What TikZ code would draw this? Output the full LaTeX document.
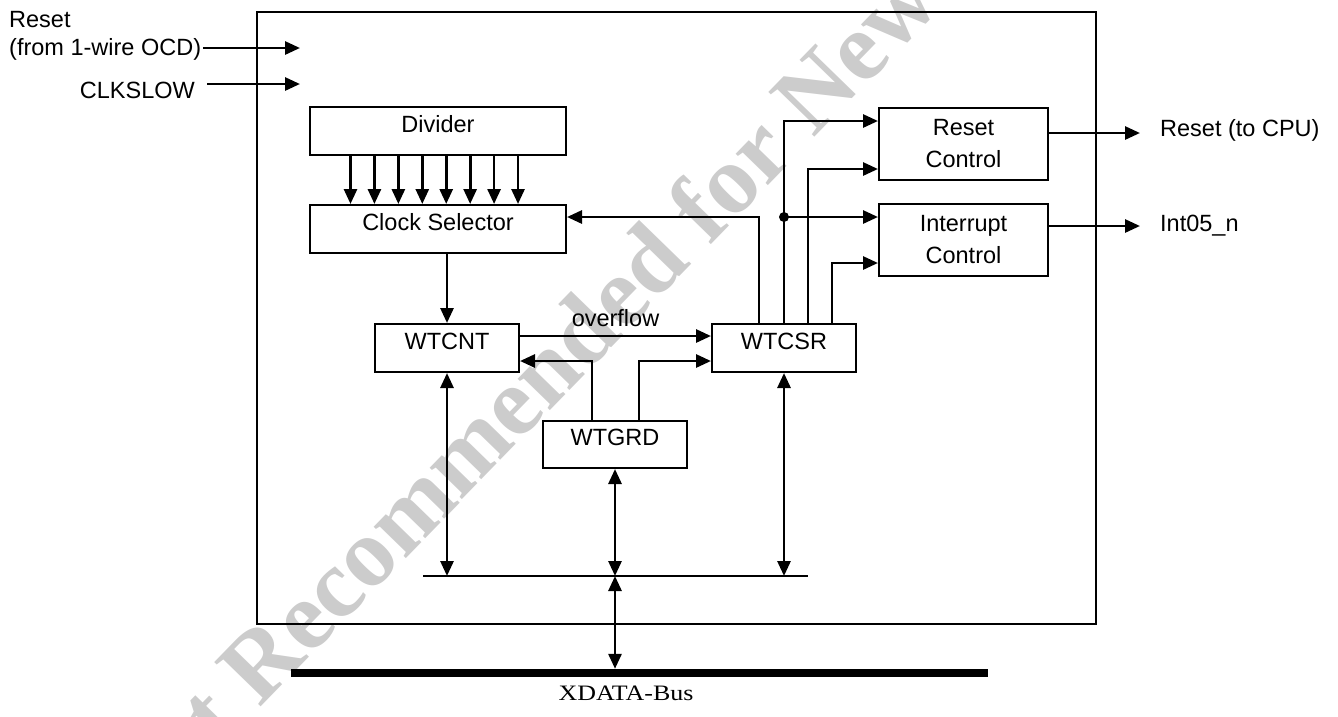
\documentclass[tikz,border=0pt]{standalone}
\usepackage{fontspec}
\usepackage{graphicx}
\setmainfont{Liberation Sans}
\newfontfamily\seriffont{Liberation Serif}
\usetikzlibrary{arrows.meta}
\begin{document}
\begin{tikzpicture}[x=1pt,y=-1pt,
  lbl/.style={font=\fontsize{23.5}{32}\selectfont, inner sep=0pt},
  blk/.style={draw, line width=2pt, font=\fontsize{23.5}{32}\selectfont, inner sep=0pt, text height=17pt, text depth=14.2pt},
  blktwo/.style={draw, line width=2pt, font=\fontsize{23.5}{32}\selectfont, inner sep=0pt, align=center},
  arr/.style={line width=2.8pt, -{Triangle[length=15pt,width=13pt]}},
  darr/.style={line width=2.8pt, {Triangle[length=15pt,width=13pt]}-{Triangle[length=15pt,width=13pt]}},
  thinline/.style={line width=1.6pt}]
\useasboundingbox (0,0) rectangle (1338,716);
% watermark
\begin{scope}
\clip (0,0) rectangle (1338,716);
\node[rotate=45.8, text=black!20, font=\seriffont\bfseries\fontsize{98}{98}\selectfont, inner sep=0pt] (wm) at (630,294) {Not Recommended for New Design};
\end{scope}
% outer frame
\node[draw, thinline, minimum width=839pt, minimum height=612pt, inner sep=0pt] (outer) at (676.5,318) {};
% blocks
\node[blk, minimum width=256pt, minimum height=48pt] (div) at (438,131) {Divider};
\node[blk, minimum width=256pt, minimum height=48pt] (cs) at (438,229) {Clock Selector};
\node[blk, minimum width=144pt, minimum height=48pt] (cnt) at (447,348) {WTCNT};
\node[blk, minimum width=144pt, minimum height=48pt] (csr) at (784,348) {WTCSR};
\node[blk, minimum width=144pt, minimum height=47pt] (grd) at (615,444.5) {WTGRD};
\node[blktwo, minimum width=169pt, minimum height=72pt] (rc) at (963.5,144) {Reset\\Control};
\node[blktwo, minimum width=169pt, minimum height=72pt] (ic) at (963.5,240) {Interrupt\\Control};
% external labels
\node[lbl, align=left, anchor=north west, font=\fontsize{23.5}{27.5}\selectfont] (rin) at (9,11.5) {Reset\\(from 1-wire OCD)};
\node[lbl, anchor=base east] (clk) at (195,98) {CLKSLOW};
\node[lbl, anchor=base west] (rout) at (1160,136.7) {Reset (to CPU)};
\node[lbl, anchor=base west] (iout) at (1160,231.7) {Int05\_n};
\coordinate (rinA) at (300,48);
\coordinate (clkA) at (300,84);
\coordinate (routA) at (1140,133);
\coordinate (intA) at (1140,226);
\draw[arr] ([xshift=2pt]rin.east |- rinA) -- (rinA);
\draw[arr] ([xshift=12pt]clk.east |- clkA) -- (clkA);
\draw[arr] (rc.east |- routA) -- (routA);
\draw[arr] (ic.east |- intA) -- (intA);
% divider to clock selector
\foreach \i in {0,...,7}
  \draw[arr] ([xshift={41.5+23.93*\i}]div.south west) -- ([xshift={41.5+23.93*\i}]cs.north west);
\draw[arr] (cs.south -| cnt.north) -- (cnt.north);
\draw[arr] ([yshift=12pt]cnt.east) -- node[lbl, above=8pt]{overflow} ([yshift=12pt]csr.west);
\draw[arr] ([xshift=-23pt]grd.north) |- ([yshift=-13pt]cnt.east);
\draw[arr] ([xshift=24pt]grd.north) |- ([yshift=-13pt]csr.west);
% WTCSR outputs
\draw[arr] ([xshift=-25pt]csr.north) |- ([yshift=12pt]cs.east);
\draw[arr] (csr.north) |- ([yshift=23pt]rc.west);
\coordinate (icA) at ([yshift=23pt]ic.west);
\draw[arr] (csr.north |- icA) -- (icA);
\fill (csr.north |- icA) circle (5pt);
\draw[arr] ([xshift=24pt]csr.north) |- ([yshift=-25pt]rc.west);
\draw[arr] ([xshift=48pt]csr.north) |- ([yshift=-23pt]ic.west);
% internal bus
\coordinate (busL) at (423,576);
\coordinate (busR) at (808,576);
\draw[thinline] (busL) -- (busR);
\draw[darr] (cnt.south) -- (cnt.south |- busL);
\draw[darr] (grd.south) -- (grd.south |- busL);
\draw[darr] (csr.south) -- (csr.south |- busL);
% XDATA bus
\node[fill=black, minimum width=697pt, minimum height=8pt, inner sep=0pt] (xbus) at (639.5,673) {};
\draw[darr] (grd.south |- busL) -- (grd.south |- xbus.north);
\node[font=\seriffont\fontsize{22}{22}\selectfont, inner sep=0pt] (xlbl) at (626,693) {\scalebox{1.18}[1]{XDATA-Bus}};
\end{tikzpicture}
\end{document}
